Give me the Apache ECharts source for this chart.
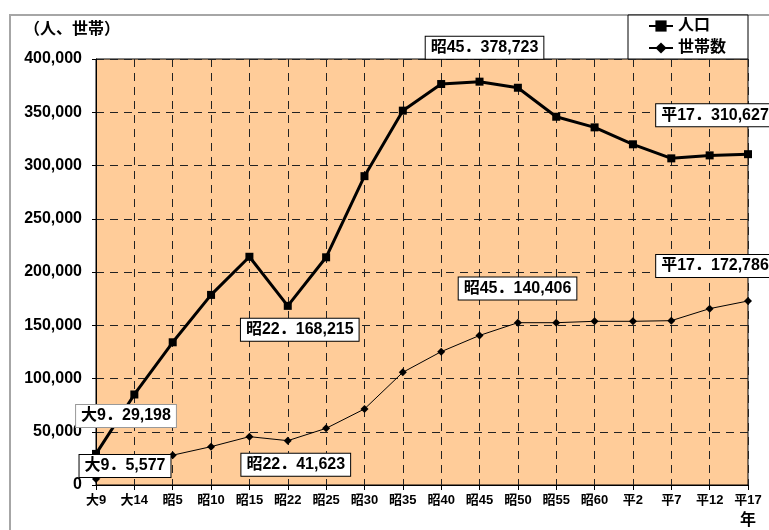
<!DOCTYPE html>
<html>
<head>
<meta charset="utf-8">
<script src="https://cdn.jsdelivr.net/npm/echarts@6/dist/echarts.min.js"></script>
<style>
html,body{margin:0;padding:0;background:#fff;}
#chart{width:769px;height:530px;}
</style>
</head>
<body>
<div id="chart"></div>
<script>
const categories = ['大9','大14','昭5','昭10','昭15','昭22','昭25','昭30','昭35','昭40','昭45','昭50','昭55','昭60','平2','平7','平12','平17'];
const population = [29198, 85000, 134000, 178500, 214300, 168215, 213800, 290000, 351500, 376500, 378723, 373000, 345800, 335800, 319900, 306700, 309500, 310627];
const households = [5577, 17000, 28000, 36000, 45400, 41623, 53200, 71400, 105800, 125200, 140406, 152400, 152400, 153700, 153700, 154300, 165600, 172786];
const yTicks = [0, 50000, 100000, 150000, 200000, 250000, 300000, 350000, 400000];
const seriesNames = ['人口', '世帯数'];

// annotation callouts: data index -> label offset (px) and border colour
const popNotes = {0: {offset: [30, -38], border: '#999'}, 5: {offset: [12, 24], border: '#000'}, 10: {offset: [5, -34], border: '#000'}, 17: {offset: [-33, -39], border: '#000'}};
const hhNotes = {0: {offset: [29, -13], border: '#000'}, 5: {offset: [8, 24], border: '#000'}, 10: {offset: [38, -47], border: '#000'}, 17: {offset: [-33, -35], border: '#000'}};

const FONT = "'Liberation Sans','Noto Sans CJK JP',sans-serif";
const fmt = v => String(v).replace(/\B(?=(\d{3})+(?!\d))/g, ',');

function buildData(values, notes) {
  return values.map((v, i) => {
    const n = notes[i];
    if (!n) return v;
    return {
      value: v,
      label: {
        show: true,
        position: 'inside',
        offset: n.offset,
        formatter: p => categories[p.dataIndex] + '．' + fmt(p.value),
        backgroundColor: '#fff',
        borderColor: n.border,
        borderWidth: 1,
        padding: [4, 5, 2, 5],
        color: '#000',
        fontSize: 16,
        fontWeight: 'bold',
        fontFamily: FONT
      }
    };
  });
}

const chart = echarts.init(document.getElementById('chart'), null, {renderer: 'canvas'});
chart.setOption({
  animation: false,
  backgroundColor: '#fff',
  title: {
    text: '（人、世帯）',
    left: 24, top: 22, padding: 0,
    textStyle: {fontSize: 16, fontWeight: 'bold', color: '#000', fontFamily: FONT}
  },
  graphic: [
    {type: 'rect', shape: {x: 10, y: 15, width: 800, height: 600}, style: {fill: 'none', stroke: '#a6a6a6', lineWidth: 2}, z: -1},
    {type: 'rect', shape: {x: 628, y: 15, width: 120, height: 44}, style: {fill: '#fff', stroke: '#000', lineWidth: 1}, z: 0}
  ],
  legend: {
    data: seriesNames,
    orient: 'vertical',
    left: 648, top: 18, padding: 0,
    itemWidth: 24, itemHeight: 14, itemGap: 6,
    textStyle: {fontSize: 16, fontWeight: 'bold', color: '#000', fontFamily: FONT, lineHeight: 16},
    z: 5
  },
  grid: {left: 96, top: 59, right: 21, bottom: 45, show: true, backgroundColor: '#FFCC99', borderColor: '#000', borderWidth: 1},
  xAxis: {
    type: 'category',
    data: categories,
    boundaryGap: false,
    name: '年',
    nameLocation: 'end',
    nameGap: 0,
    nameTextStyle: {fontSize: 16, fontWeight: 'bold', color: '#000', fontFamily: FONT, align: 'center', verticalAlign: 'top', padding: [28, 0, 0, 0]},
    axisLine: {lineStyle: {color: '#000', width: 1}},
    axisTick: {show: true, length: 5, lineStyle: {color: '#000'}},
    axisLabel: {fontSize: 13, fontWeight: 'bold', color: '#000', fontFamily: FONT, margin: 9, interval: 0},
    splitLine: {show: true, lineStyle: {color: '#222', type: [8, 6], width: 1}}
  },
  yAxis: {
    type: 'value',
    min: yTicks[0], max: yTicks[yTicks.length - 1], interval: yTicks[1] - yTicks[0],
    axisLine: {show: true, lineStyle: {color: '#000'}},
    axisTick: {show: true, length: 4, lineStyle: {color: '#000'}},
    axisLabel: {fontSize: 16, fontWeight: 'bold', color: '#000', fontFamily: FONT, margin: 14, formatter: v => fmt(v)},
    splitLine: {show: true, lineStyle: {color: '#222', type: [8, 6], width: 1}}
  },
  series: [
    {
      name: seriesNames[0], type: 'line',
      data: buildData(population, popNotes),
      symbol: 'rect', symbolSize: 8,
      lineStyle: {color: '#000', width: 3},
      itemStyle: {color: '#000'},
      clip: false
    },
    {
      name: seriesNames[1], type: 'line',
      data: buildData(households, hhNotes),
      symbol: 'diamond', symbolSize: 8,
      lineStyle: {color: '#000', width: 1},
      itemStyle: {color: '#000'},
      clip: false
    }
  ]
});
</script>
</body>
</html>
